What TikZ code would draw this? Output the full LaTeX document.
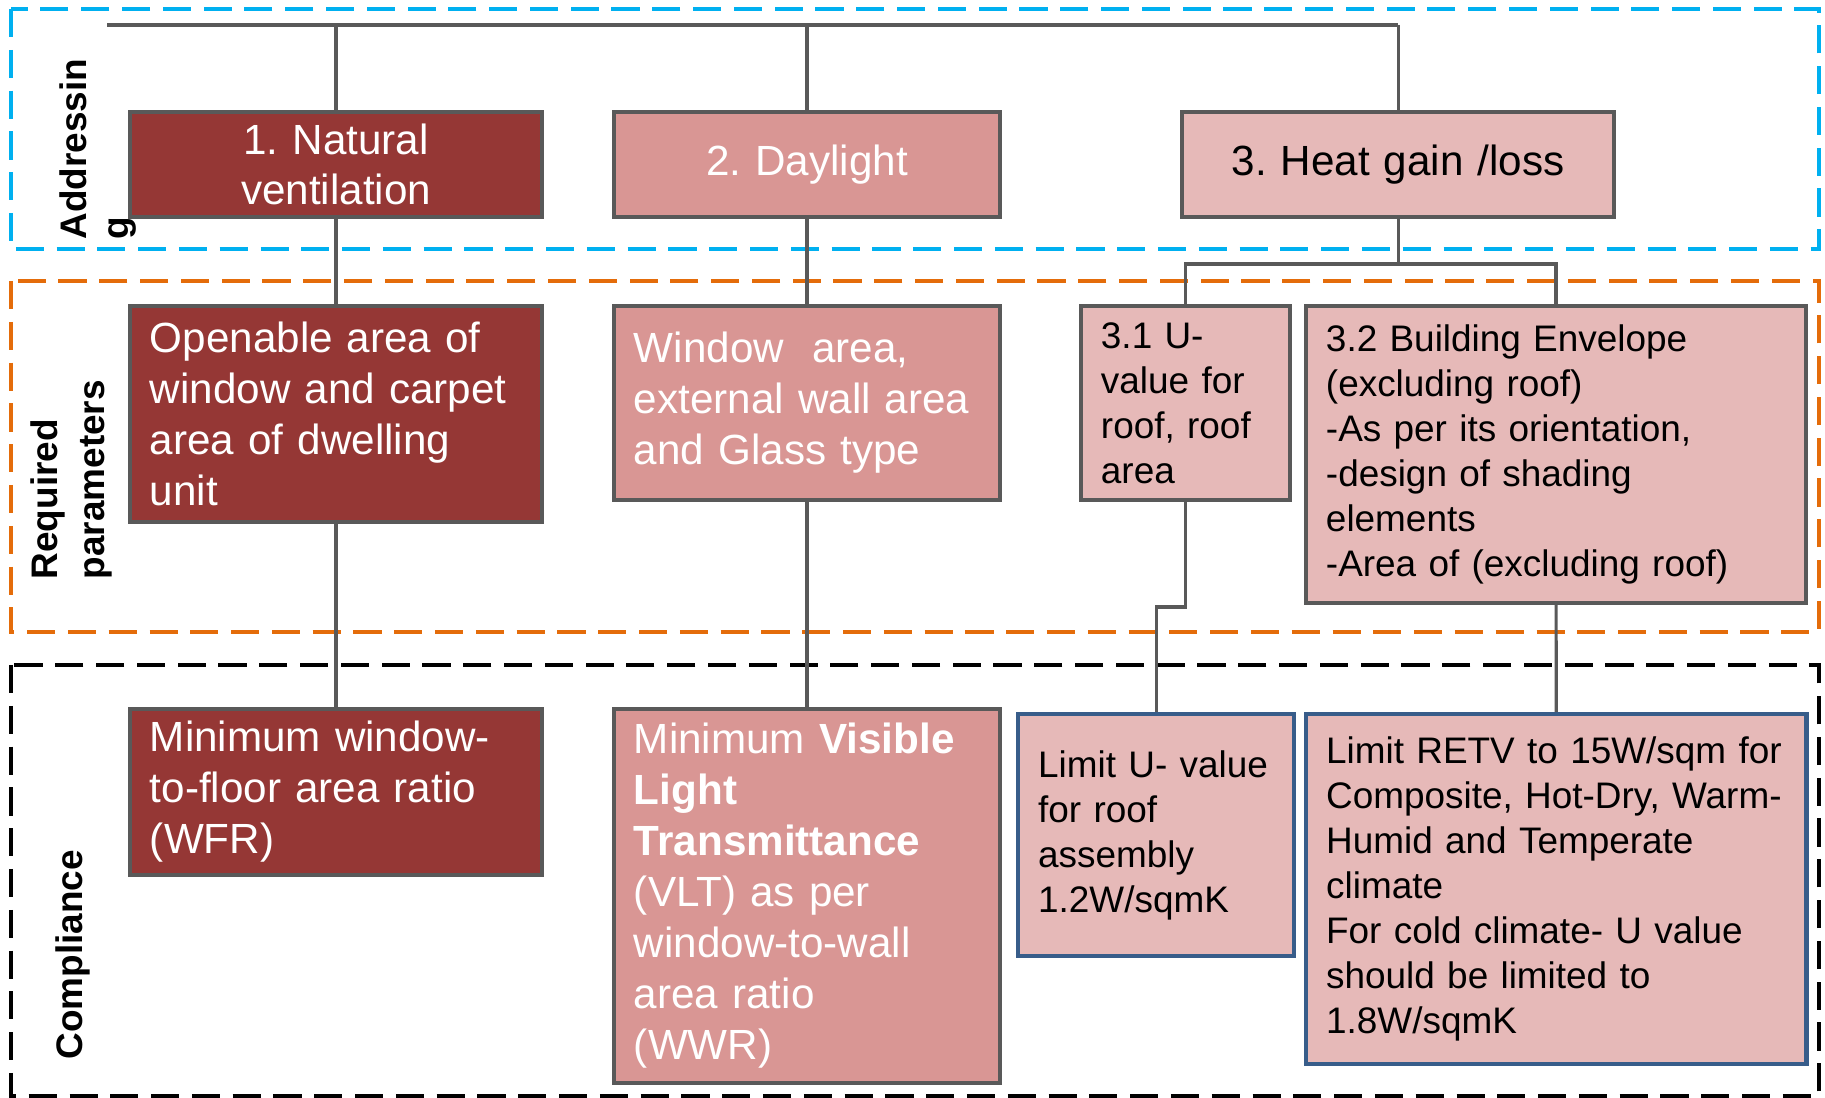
\documentclass[tikz,border=0pt]{standalone}
\usepackage{fontspec}
\setmainfont{Liberation Sans}
\usepackage{tikz}
\frenchspacing

\definecolor{ventred}{HTML}{953735}
\definecolor{daypink}{HTML}{D99694}
\definecolor{heatpink}{HTML}{E6B9B8}
\definecolor{boxgray}{HTML}{595959}
\definecolor{limitblue}{HTML}{385D8A}
\definecolor{addrblue}{HTML}{00B0F0}
\definecolor{reqorange}{HTML}{E46C0A}

\tikzset{
  box/.style={draw=boxgray, line width=1.1pt, anchor=north west, inner xsep=0.2cm, inner ysep=0pt,
    align=left, font=\fontsize{12}{14.5}\selectfont},
  ventbox/.style={box, fill=ventred, text=white},
  daybox/.style={box, fill=daypink, text=white},
  heatbox/.style={box, fill=heatpink, text=black},
  subbox/.style={heatbox, font=\fontsize{10.5}{12.8}\selectfont},
  limitbox/.style={subbox, draw=limitblue, line width=1.2pt},
  headbox/.style={align=center, font=\fontsize{12}{14.2}\selectfont},
  conn/.style={draw=boxgray, line width=0.9pt},
  zone/.style={line width=1pt, dash pattern=on 8pt off 3.6pt},
  rowlabel/.style={rotate=90, anchor=north west, inner sep=0pt, align=left,
    font=\bfseries\fontsize{10.5}{12}\selectfont}
}

\begin{document}
\begin{tikzpicture}[x=0.01cm, y=-0.01cm]
  \useasboundingbox (0,0) rectangle (1825,1098);

  % the three bands
  \draw[zone, addrblue] (11,9) rectangle (1819,249);
  \draw[zone, reqorange] (11,281) rectangle (1819,632);
  \draw[zone, black] (11,665) rectangle (1819,1096);

  \node[rowlabel] (addr) at (59,240) {Addressin\\g};
  \node[rowlabel, font=\bfseries\fontsize{10.5}{13.4}\selectfont] (req) at (30,580) {Required\\parameters};
  \node[rowlabel] (comp) at (55,1060) {Compliance};

  % addressing
  \node[ventbox, headbox, text width=3.72cm, minimum height=1.05cm] (nat) at (128,110) {1. Natural\\ventilation};
  \node[daybox, headbox, text width=3.46cm, minimum height=1.05cm] (day) at (612,110) {2. Daylight};
  \node[heatbox, headbox, text width=3.92cm, minimum height=1.05cm] (heat) at (1180,110) {3. Heat gain /loss};

  % required parameters
  \node[ventbox, text width=3.72cm, minimum height=2.16cm] (open) at (128,304)
    {Openable area of\\window and carpet\\area of dwelling\\unit};
  \node[daybox, text width=3.46cm, minimum height=1.94cm] (winarea) at (612,304)
    {Window\ \ area,\\external wall area\\and Glass type};
  \node[subbox, text width=1.69cm, minimum height=1.94cm] (u31) at (1079,304)
    {3.1 U-\\value for\\roof, roof\\area};
  \node[subbox, text width=4.6cm, minimum height=2.97cm] (env32) at (1304,304)
    {3.2 Building Envelope\\(excluding roof)\\-As per its orientation,\\-design of shading\\elements\\-Area of (excluding roof)};

  % compliance
  \node[ventbox, text width=3.72cm, minimum height=1.66cm] (minwfr) at (128,707)
    {Minimum window-\\to-floor area ratio\\(WFR)};
  \node[daybox, text width=3.46cm, minimum height=3.74cm] (vlt) at (612,707)
    {Minimum \textbf{Visible}\\\textbf{Light}\\\textbf{Transmittance}\\(VLT) as per\\window-to-wall\\area ratio\\(WWR)};
  \node[limitbox, text width=2.36cm, minimum height=2.42cm] (limitU) at (1016,712)
    {Limit U- value\\for roof\\assembly\\1.2W/sqmK};
  \node[limitbox, text width=4.6cm, minimum height=3.5cm] (retv) at (1304,712)
    {Limit RETV to 15W/sqm for\\Composite, Hot-Dry, Warm-\\Humid and Temperate\\climate\\For cold climate- U value\\should be limited to\\1.8W/sqmK};

  % tree lines
  \coordinate (root) at (107,25);
  \draw[conn, line width=1.2pt] (root) -- (root -| heat.north);
  \draw[conn] (root -| nat.north) -- (nat.north);
  \draw[conn] (root -| day.north) -- (day.north);
  \draw[conn] (root -| heat.north) -- (heat.north);
  \draw[conn] (nat.south) -- (open.north);
  \draw[conn] (open.south) -- (minwfr.north);
  \draw[conn] (day.south) -- (winarea.north);
  \draw[conn] (winarea.south) -- (vlt.north);
  \draw[conn] (heat.south) -- ++(0,45) coordinate (split);
  \draw[conn, line width=1.1pt] (u31.north) |- (split) -| (env32.north);
  \draw[conn] (u31.south) -- ++(0,105) coordinate (kink) -| (limitU.north);
  \draw[conn] (env32.south) -- (retv.north);
\end{tikzpicture}
\end{document}
